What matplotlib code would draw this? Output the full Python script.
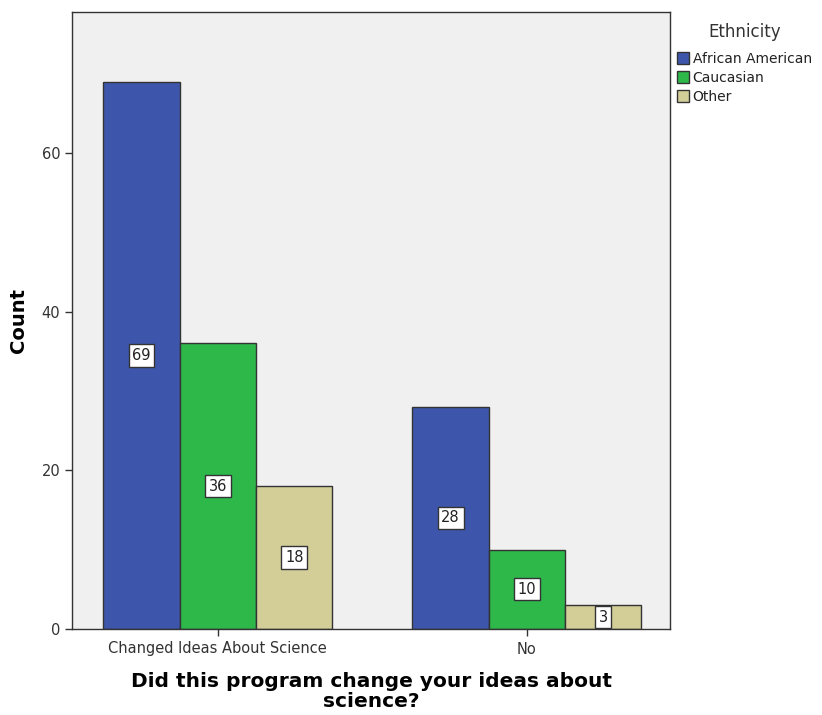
import matplotlib
matplotlib.use("Agg")
import matplotlib.pyplot as plt
import numpy as np
from matplotlib.patches import Patch

plt.rcParams['font.family'] = ['DejaVu Sans']

categories = ["Changed Ideas About Science", "No"]
series_names = ["African American", "Caucasian", "Other"]
african_american = [69, 28]
caucasian = [36, 10]
other = [18, 3]
series_values = [african_american, caucasian, other]
colors = ["#3d56ab", "#2fb84a", "#d3ce98"]
yticks = [0, 20, 40, 60]

fig = plt.figure(figsize=(8.22, 7.15), dpi=100)
ax = fig.add_axes([72/822, 86/715, 598/822, 617/715])
ax.set_facecolor("#f0f0f0")

x = np.arange(len(categories))
width = 0.247
for i, (name, vals, c) in enumerate(zip(series_names, series_values, colors)):
    pos = x + (i - 1) * width
    ax.bar(pos, vals, width, color=c, edgecolor="#333333", linewidth=1.0, zorder=2)
    for p, v in zip(pos, vals):
        ax.text(p, v / 2, str(v), ha="center", va="center", fontsize=10.5, color="#222222",
                bbox=dict(boxstyle="square,pad=0.25", facecolor="white", edgecolor="#333333", linewidth=1.0),
                zorder=3)

ax.set_xlim(-0.472, 1.463)
ax.set_ylim(0, 77.8)
ax.set_yticks(yticks)
ax.set_xticks(x)
ax.set_xticklabels(categories)
ax.tick_params(axis="both", direction="out", length=5, width=1, colors="#333333", labelsize=10.5, labelcolor="#333333")
ax.tick_params(axis="x", pad=4)
for s in ax.spines.values():
    s.set_color("#333333")
    s.set_linewidth(1)

ax.set_ylabel("Count", fontsize=14, fontweight="bold", labelpad=10)
ax.set_xlabel("Did this program change your ideas about\nscience?", fontsize=14.5, fontweight="bold",
              labelpad=11, linespacing=1.05)

handles = [Patch(facecolor=c, edgecolor="#333333", label=n) for n, c in zip(series_names, colors)]
leg = fig.legend(handles=handles, title="Ethnicity", loc="upper left", bbox_to_anchor=(667/822, 702/715),
                 frameon=False, fontsize=10, title_fontsize=12, handlelength=0.9, handleheight=1.0,
                 handletextpad=0.25, labelspacing=0.35, borderaxespad=0.3)
leg._legend_box.align = "center"
leg._legend_box.sep = 8
leg.get_title().set_color("#333333")
for t in leg.get_texts():
    t.set_color("#222222")

fig.savefig("out.png", dpi=100)
